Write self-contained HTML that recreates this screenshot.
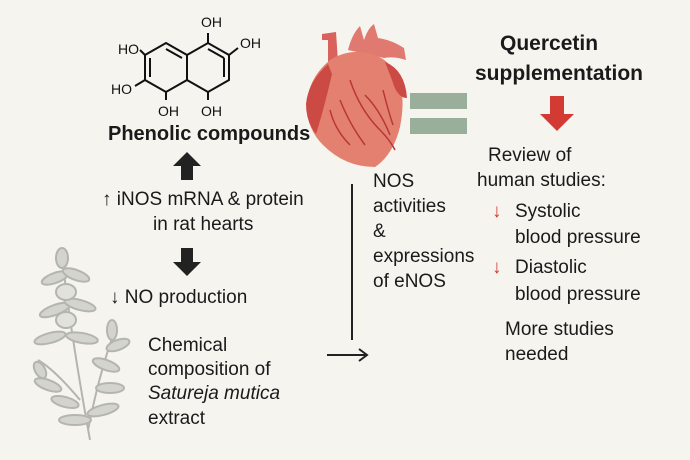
<!DOCTYPE html>
<html><head><style>
body{margin:0;width:690px;height:460px;background:#f6f4ef;overflow:hidden;position:relative;font-family:"Liberation Sans",sans-serif;color:#1a1a1a}
.t{position:absolute;font-size:19px;white-space:nowrap;line-height:1}
.b{font-weight:bold}
svg{position:absolute;left:0;top:0}
</style></head><body>
<svg width="690" height="460">
<g stroke="#111" stroke-width="2" fill="none">
<polygon points="166,43 187,55 187,80 166,92 145,80 145,55"/>
<polygon points="187,55 208,43 229,55 229,80 208,92 187,80"/>
<line x1="150" y1="58" x2="150" y2="77"/><line x1="166" y1="49" x2="182" y2="58"/>
<line x1="224" y1="58" x2="224" y2="77"/><line x1="208" y1="49" x2="224" y2="58"/>
<line x1="166" y1="92" x2="166" y2="100"/><line x1="208" y1="92" x2="208" y2="100"/>
<line x1="208" y1="43" x2="208" y2="33"/><line x1="229" y1="55" x2="238" y2="48"/>
<line x1="145" y1="55" x2="140" y2="50"/><line x1="145" y1="80" x2="135" y2="86"/>
</g>
<g font-family="Liberation Sans" font-size="14" fill="#111">
<text x="201" y="27">OH</text><text x="240" y="48">OH</text>
<text x="118" y="54">HO</text><text x="111" y="94">HO</text>
<text x="158" y="116">OH</text><text x="201" y="116">OH</text>
</g>
<polygon points="187,152 173,166 181,166 181,180 193,180 193,166 201,166" fill="#222"/>
<polygon points="187,276 173,262 181,262 181,248 193,248 193,262 201,262" fill="#222"/>
<!-- heart -->
<g>
<path d="M328 62 l0 -22 l-6 0 l0 -6 l14 -2 l2 30z" fill="#d9625c"/>
<path d="M348 50 q4 -16 12 -24 l4 14 q4 -12 10 -16 l4 14 q14 2 26 10 l2 12 q-12 -4 -22 -2z" fill="#e07a70"/>
<path d="M330 60 q-18 15 -22 35 q-5 30 15 50 q22 22 52 22 q18 -12 25 -40 q6 -30 -2 -50 q-10 -20 -30 -24 q-20 -4 -38 7z" fill="#e4806f"/>
<path d="M328 64 q-20 18 -22 40 q0 18 10 30 q8 -25 16 -60z" fill="#cc4a44"/>
<path d="M385 62 q20 8 22 36 q-10 0 -15 -18z" fill="#cc4a44"/>
<g stroke="#b8363a" stroke-width="1.5" fill="none">
<path d="M350 80 q10 30 30 50 q10 10 15 20"/><path d="M365 95 q15 15 25 40"/><path d="M340 100 q10 25 25 45"/><path d="M383 90 q5 20 10 35"/><path d="M330 110 q5 20 20 35"/>
</g>
</g>
<rect x="410" y="93" width="57" height="16" fill="#9aae9c"/>
<rect x="410" y="118" width="57" height="16" fill="#9aae9c"/>
<polygon points="557,131 540,114 550,114 550,96 564,96 564,114 574,114" fill="#d33a33"/>
<line x1="352" y1="184" x2="352" y2="340" stroke="#222" stroke-width="2"/>
<line x1="327" y1="355" x2="366" y2="355" stroke="#222" stroke-width="2"/>
<polyline points="359,349 367,355 359,361" fill="none" stroke="#222" stroke-width="2"/>
<g stroke="#b5b5b0" stroke-width="2" fill="#d4d4cf">
<path d="M90 440 Q70 330 62 255" fill="none"/>
<path d="M88 430 Q100 370 115 330" fill="none"/>
<path d="M80 400 Q55 370 38 360" fill="none"/>
<ellipse cx="55" cy="310" rx="16" ry="5" transform="rotate(-20 55 310)"/>
<ellipse cx="80" cy="305" rx="16" ry="5" transform="rotate(15 80 305)"/>
<ellipse cx="50" cy="338" rx="16" ry="5" transform="rotate(-15 50 338)"/>
<ellipse cx="82" cy="338" rx="16" ry="5" transform="rotate(10 82 338)"/>
<ellipse cx="55" cy="278" rx="14" ry="5" transform="rotate(-20 55 278)"/>
<ellipse cx="76" cy="275" rx="14" ry="5" transform="rotate(20 76 275)"/>
<ellipse cx="62" cy="258" rx="6" ry="10"/>
<ellipse cx="66" cy="292" rx="10" ry="8" fill="#e2e2dc"/>
<ellipse cx="66" cy="320" rx="10" ry="8" fill="#e2e2dc"/>
<ellipse cx="48" cy="385" rx="14" ry="5" transform="rotate(20 48 385)"/>
<ellipse cx="65" cy="402" rx="14" ry="5" transform="rotate(15 65 402)"/>
<ellipse cx="75" cy="420" rx="16" ry="5"/>
<ellipse cx="103" cy="410" rx="16" ry="5" transform="rotate(-15 103 410)"/>
<ellipse cx="110" cy="388" rx="14" ry="5"/>
<ellipse cx="106" cy="365" rx="14" ry="5" transform="rotate(20 106 365)"/>
<ellipse cx="118" cy="345" rx="12" ry="5" transform="rotate(-20 118 345)"/>
<ellipse cx="112" cy="330" rx="5" ry="10"/>
<ellipse cx="40" cy="370" rx="5" ry="9" transform="rotate(-30 40 370)"/>
</g>
</svg>
<div class="t b" style="left:108px;top:124px;font-size:20px">Phenolic compounds</div>
<div class="t" style="left:102px;top:190px">↑ iNOS mRNA &amp; protein</div>
<div class="t" style="left:153px;top:215px">in rat hearts</div>
<div class="t" style="left:110px;top:288px">↓ NO production</div>
<div class="t" style="left:148px;top:336px">Chemical</div>
<div class="t" style="left:148px;top:360px">composition of</div>
<div class="t" style="left:148px;top:384px;font-style:italic">Satureja mutica</div>
<div class="t" style="left:148px;top:409px">extract</div>
<div class="t" style="left:373px;top:172px">NOS</div>
<div class="t" style="left:373px;top:197px">activities</div>
<div class="t" style="left:373px;top:222px">&amp;</div>
<div class="t" style="left:373px;top:247px">expressions</div>
<div class="t" style="left:373px;top:272px">of eNOS</div>
<div class="t b" style="left:500px;top:33px;font-size:21px">Quercetin</div>
<div class="t b" style="left:475px;top:63px;font-size:21px">supplementation</div>
<div class="t" style="left:488px;top:146px">Review of</div>
<div class="t" style="left:477px;top:171px">human studies:</div>
<div class="t" style="left:492px;top:202px;color:#d33a33">↓</div>
<div class="t" style="left:515px;top:202px">Systolic</div>
<div class="t" style="left:515px;top:228px">blood pressure</div>
<div class="t" style="left:492px;top:258px;color:#d33a33">↓</div>
<div class="t" style="left:515px;top:258px">Diastolic</div>
<div class="t" style="left:515px;top:285px">blood pressure</div>
<div class="t" style="left:505px;top:320px">More studies</div>
<div class="t" style="left:505px;top:345px">needed</div>
</body></html>
